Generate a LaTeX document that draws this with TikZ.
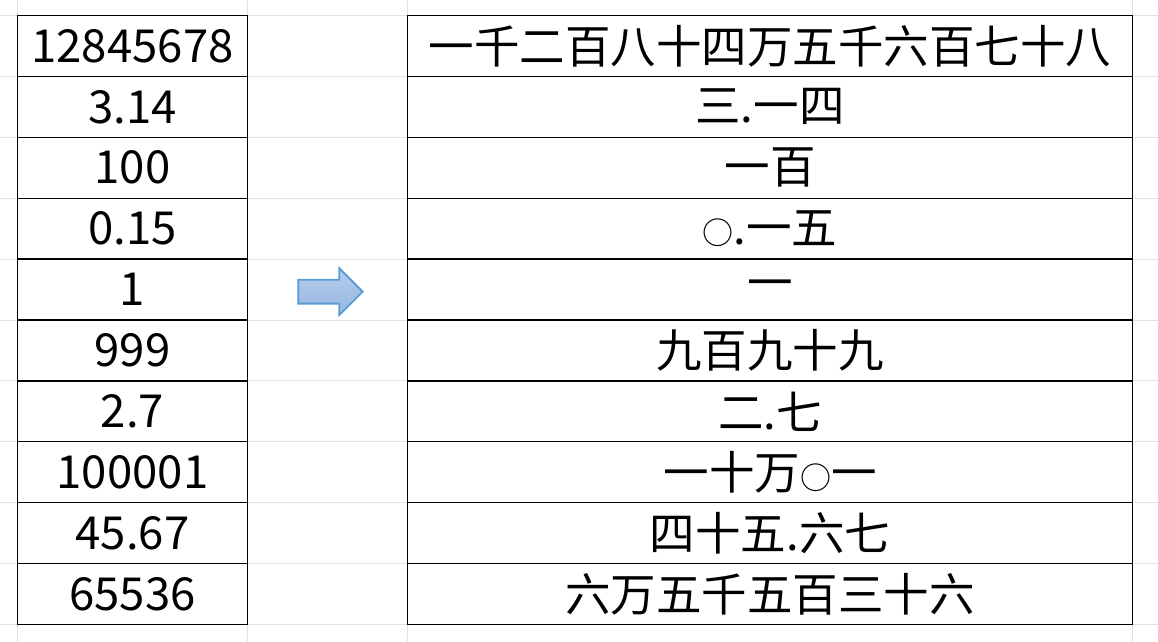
\documentclass[tikz,border=0pt]{standalone}
\usepackage{fontspec}
\setmainfont{Noto Sans CJK SC}
\usepackage{tikz}
\usetikzlibrary{positioning, shapes.arrows}

\definecolor{gridgray}{RGB}{225,225,225}
\definecolor{arrowline}{RGB}{91,155,213}
\definecolor{arrowtop}{RGB}{182,204,236}
\definecolor{arrowbot}{RGB}{150,182,226}

\newcommand{\lingcircle}{{\fontsize{15.5}{18}\selectfont ○}}

\begin{document}
\begin{tikzpicture}[x=0.5pt, y=-0.5pt,
    gridline/.style = {draw=gridgray, line width=0.5pt},
    cell/.style = {shape=rectangle, draw, line width=0.65pt, inner sep=0pt, outer sep=0pt,
      minimum height=30.45pt, font=\fontsize{22.75}{27}\selectfont},
    numcell/.style = {cell, minimum width=115pt},
    hancell/.style = {cell, minimum width=362.5pt},
    bluearrow/.style = {shape=single arrow, draw=arrowline, line width=0.9pt,
      top color=arrowtop, bottom color=arrowbot, inner xsep=0pt, inner ysep=5.5pt, outer sep=0pt,
      minimum height=32.2pt, single arrow head extend=5.75pt}]
    \useasboundingbox (0,0) rectangle (1158,642);
    % sheet grid
    \foreach \k in {0,...,10}
      \draw[gridline] (0,{15.5+60.9*\k}) -- (1158,{15.5+60.9*\k});
    \foreach \xx in {17.5,247.5,407.5,1132.5}
      \draw[gridline] (\xx,0) -- (\xx,642);
    % the two columns
    \foreach \num/\han [count=\i] in {12845678/一千二百八十四万五千六百七十八,
        3.14/三.一四, 100/一百, 0.15/\lingcircle.一五, 1/一, 999/九百九十九, 2.7/二.七,
        100001/一十万\lingcircle 一, 45.67/四十五.六七, 65536/六万五千五百三十六} {
      \node[numcell] (num\i) at (132.5,{15.5+60.9*(\i-0.5)}) {\num};
      \node[hancell] (han\i) at (770,{15.5+60.9*(\i-0.5)}) {\han};
    }
    \node[bluearrow, anchor=tip] (arrow) at (362.7,291.7) {};
\end{tikzpicture}
\end{document}
